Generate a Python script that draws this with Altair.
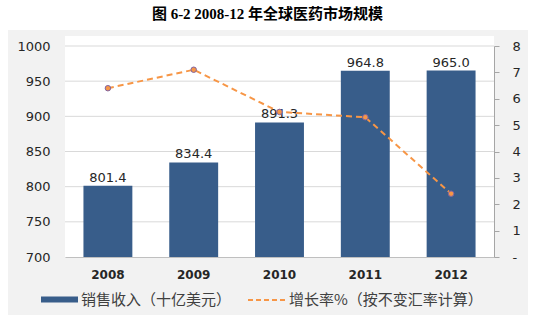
import altair as alt
import pandas as pd

years = ["2008", "2009", "2010", "2011", "2012"]
sales = [801.4, 834.4, 891.3, 964.8, 965.0]
growth = [6.4, 7.1, 5.5, 5.3, 2.4]
grid_vals = [750, 800, 850, 900, 950, 1000]
left_ticks = [700, 750, 800, 850, 900, 950, 1000]
right_ticks = [0, 1, 2, 3, 4, 5, 6, 7, 8]

bar_name = "销售收入（十亿美元）"
line_name = "增长率%（按不变汇率计算）"
title_text = "图 6-2 2008-12 年全球医药市场规模"

BAR = "#385d8a"
ORANGE = "#f79646"
NUM_FONT = "DejaVu Sans"
CJK_FONT = "Noto Sans CJK SC"

df = pd.DataFrame({"year": years, "sales": sales, "growth": growth,
                   "s": [bar_name] * 5, "l": [line_name] * 5})
grid_df = pd.DataFrame({"g": grid_vals})
one = pd.DataFrame({"a": [0]})

W, H = 429, 211

x_enc = alt.X("year:N", sort=years, title=None,
              scale=alt.Scale(paddingInner=0.43, paddingOuter=0.215),
              axis=alt.Axis(labelAngle=0, labelFont=NUM_FONT, labelFontSize=12,
                            labelFontWeight="bold", labelColor="#262626",
                            ticks=False, labelPadding=12, domainColor="#bfbfbf",
                            zindex=1))

yL = alt.Scale(domain=[700, 1000], zero=False, nice=False)
yR = alt.Scale(domain=[0, 8], nice=False)

left_axis = alt.Axis(values=left_ticks, grid=False, format="d", labelOverlap=False,
                     ticks=False, domain=False, labelPadding=15,
                     labelFont=NUM_FONT, labelFontSize=13, labelColor="#262626",
                     zindex=1)
right_axis = alt.Axis(orient="right", values=right_ticks, grid=False, labelOverlap=False,
                      tickSize=5, tickColor="#a6a6a6", domainColor="#a6a6a6",
                      labelPadding=13, labelFont=NUM_FONT, labelFontSize=13,
                      labelColor="#262626", zindex=1,
                      labelExpr="datum.value == 0 ? '-' : datum.label")

# white strips masking the outside margins (page background); gray box is chart background
masks = []
for (x1, x2, y1, y2) in [(-65, W + 43, -46, -16), (-65, -57, -46, H + 69),
                         (463, W + 43, -46, H + 69), (-65, W + 43, H + 58, H + 69)]:
    masks.append(alt.Chart(one).mark_rect(color="white", clip=False).encode(
        x=alt.value(x1), x2=alt.value(x2), y=alt.value(y1), y2=alt.value(y2)))
white_top = alt.Chart(one).mark_rect(color="white", clip=False).encode(
    x=alt.value(0), x2=alt.value(W), y=alt.value(-10), y2=alt.value(0))

grid = alt.Chart(grid_df).mark_rule(color="#d9d9d9", strokeWidth=1).encode(
    y=alt.Y("g:Q", scale=yL, title=None, axis=left_axis))

bars = alt.Chart(df).mark_bar().encode(
    x=x_enc,
    y=alt.Y("sales:Q", scale=yL, title=None, axis=left_axis),
    y2=alt.datum(700),
    color=alt.Color("s:N", scale=alt.Scale(domain=[bar_name], range=[BAR]),
                    legend=alt.Legend(title=None, orient="none", legendX=-25, legendY=234,
                                      symbolType="M-1,-0.16H1V0.16H-1Z", symbolSize=1369,
                                      labelFont=CJK_FONT, labelFontSize=15, labelLimit=400,
                                      labelColor="#404040", labelOffset=2, padding=0)),
)

labels = alt.Chart(df).mark_text(dy=-8, font=NUM_FONT, fontSize=13, color="#262626").encode(
    x=alt.X("year:N", sort=years),
    y=alt.Y("sales:Q", scale=yL, title=None, axis=left_axis),
    text=alt.Text("sales:Q", format=".1f"),
)

left = alt.layer(grid, bars, labels)

line = alt.Chart(df).mark_line(strokeDash=[6, 4], strokeWidth=2).encode(
    x=alt.X("year:N", sort=years),
    y=alt.Y("growth:Q", scale=yR, title=None, axis=right_axis),
    stroke=alt.Stroke("l:N", scale=alt.Scale(domain=[line_name], range=[ORANGE]),
                      legend=alt.Legend(title=None, orient="none", legendX=182, legendY=234,
                                        symbolType="stroke", symbolSize=1444,
                                        symbolStrokeWidth=2, symbolDash=[5, 3],
                                        labelFont=CJK_FONT, labelFontSize=15, labelLimit=400,
                                        labelColor="#404040", labelOffset=2, padding=0)),
)
points = alt.Chart(df).mark_point(filled=True, size=30, fill=ORANGE, stroke="#8064a2",
                                  strokeWidth=1, opacity=1).encode(
    x=alt.X("year:N", sort=years),
    y=alt.Y("growth:Q", scale=yR, title=None, axis=right_axis),
)
right = alt.layer(line, points)

chart = alt.layer(*masks, white_top, left, right).resolve_scale(
    y="independent", color="independent", stroke="independent"
).properties(
    width=W, height=H,
    autosize=alt.AutoSizeParams(type="none"),
    padding={"left": 65, "top": 46, "right": 43, "bottom": 69},
    background="#f2f2f2",
    title=alt.TitleParams(title_text, font="Liberation Serif, Noto Sans CJK SC",
                          fontSize=15, fontWeight="bold", color="#000000",
                          anchor="middle", frame="group", dx=-12, offset=-22, zindex=2),
).configure_view(fill="white", stroke=None)

chart.save("out.html", embed_options={"renderer": "svg", "actions": False})
